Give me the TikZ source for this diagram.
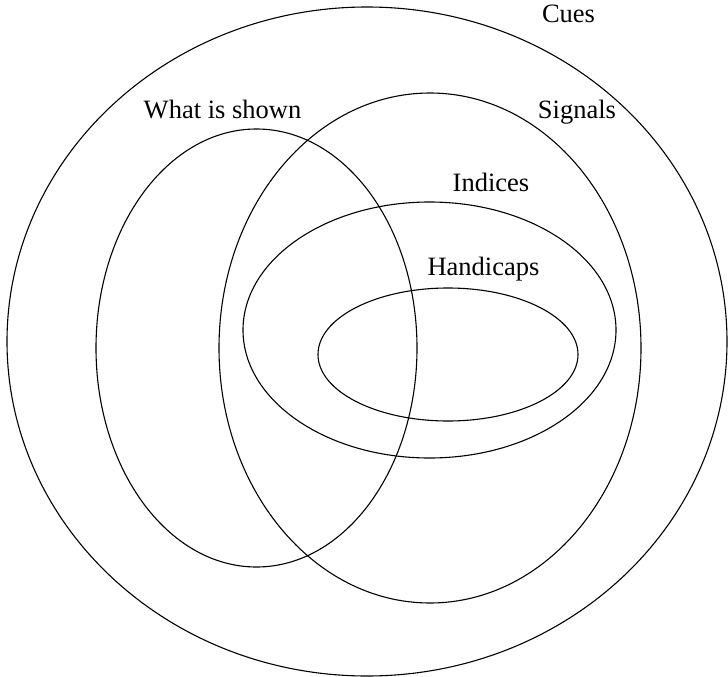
\documentclass[tikz,border=0pt]{standalone}
\usepackage{fontspec}
\setmainfont{Liberation Serif}
\tikzset{
  settext/.style={anchor=base, inner sep=0pt, font=\fontsize{26.5}{30}\selectfont}
}
\begin{document}
\begin{tikzpicture}[x=1pt,y=-1pt,line width=1.1pt]
  \useasboundingbox (0,0) rectangle (728,677);
  % Conjunto Cues
  \draw (367,341.5) ellipse [x radius=360, y radius=334.5];
  % Conjunto What is shown
  \draw (256.5,348) ellipse [x radius=160.5, y radius=219];
  % Conjunto Signals
  \draw (430,348) ellipse [x radius=211, y radius=255];
  % Conjunto Indices
  \draw (429.5,330) ellipse [x radius=186.5, y radius=128];
  % Conjunto Handicaps
  \draw (448,354.5) ellipse [x radius=130, y radius=66.5];
  % Etiquetas
  \node[settext] (cues) at (568.5,23) {Cues};
  \node[settext] (shown) at (222.5,118) {What is shown};
  \node[settext] (signals) at (577,118) {Signals};
  \node[settext] (indices) at (491,191) {Indices};
  \node[settext] (handicaps) at (483.5,275) {Handicaps};
\end{tikzpicture}
\end{document}
